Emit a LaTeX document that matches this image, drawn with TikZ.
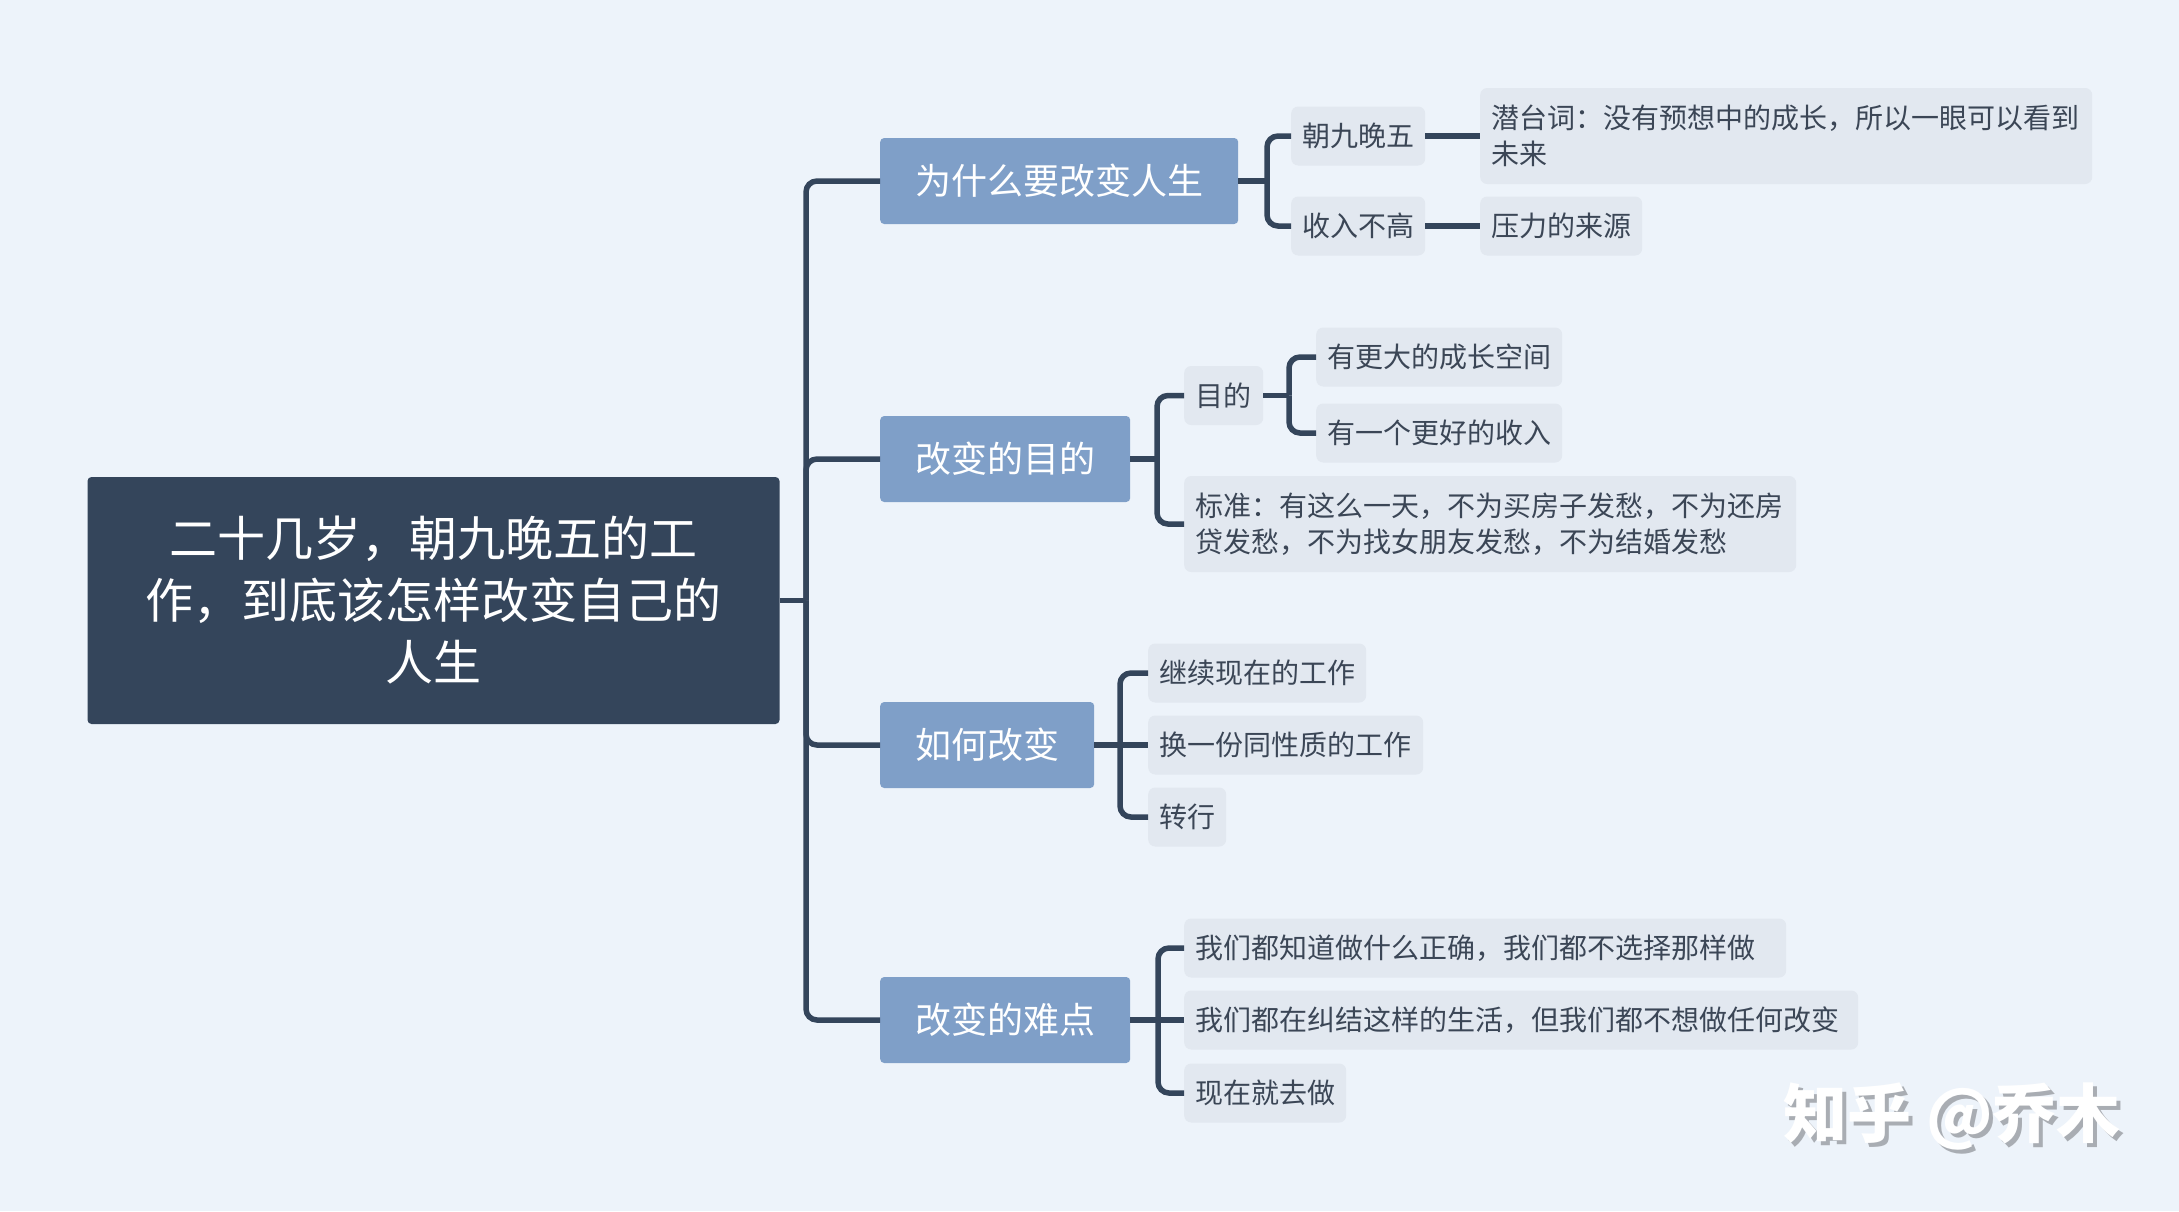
\documentclass[tikz,border=0pt]{standalone}
\usepackage{fontspec}
\setmainfont{Noto Sans CJK SC}
\definecolor{bgc}{HTML}{EDF3FA}
\definecolor{rootc}{HTML}{34455B}
\definecolor{lonec}{HTML}{7F9FC8}
\definecolor{ltwoc}{HTML}{E2E8F0}
\definecolor{txtc}{HTML}{3B4656}
\definecolor{linec}{HTML}{34455B}
\definecolor{wmshadow}{HTML}{A9ADB3}
\tikzset{
  rootbox/.style={fill=rootc, text=white, rounded corners=4pt, minimum width=692pt, minimum height=247pt, align=center, font=\fontsize{48}{62}\selectfont},
  lone/.style={fill=lonec, text=white, rounded corners=4pt, minimum height=86pt, inner xsep=35pt, font=\fontsize{36}{44}\selectfont, anchor=west},
  ltwo/.style={fill=ltwoc, text=txtc, rounded corners=7pt, minimum height=59pt, inner xsep=11pt, inner ysep=6pt, font=\fontsize{28}{36}\selectfont, anchor=west, align=left},
  conn/.style={draw=linec, line width=5.5pt, rounded corners=11pt},
  wmark/.style={font=\fontsize{64}{64}\selectfont\bfseries},
}
\begin{document}
\begin{tikzpicture}[x=1pt,y=-1pt]
\fill[bgc] (0,0) rectangle (2179,1211);
\useasboundingbox (0,0) rectangle (2179,1211);

\node[rootbox] (root) at (433.5,600.5) {二十几岁，朝九晚五的工\\作，到底该怎样改变自己的\\人生};

\node[lone] (n1) at (880,181) {为什么要改变人生};
\node[lone] (n2) at (880,459) {改变的目的};
\node[lone] (n3) at (880,745) {如何改变};
\node[lone] (n4) at (880,1020) {改变的难点};

\node[ltwo, text width=112pt] (a1) at (1291,136) {朝九晚五};
\node[ltwo, text width=112pt] (a2) at (1291,226) {收入不高};
\node[ltwo, text width=590pt, minimum height=96pt] (a1x) at (1480,136) {潜台词：没有预想中的成长，所以一眼可以看到\\未来};
\node[ltwo, text width=140pt] (a2x) at (1480,226) {压力的来源};

\node[ltwo, text width=57pt] (b1) at (1184,395.5) {目的};
\node[ltwo, text width=224pt] (b1a) at (1316,357) {有更大的成长空间};
\node[ltwo, text width=224pt] (b1b) at (1316,433) {有一个更好的收入};
\node[ltwo, text width=590pt, minimum height=96pt] (b2) at (1184,524) {标准：有这么一天，不为买房子发愁，不为还房\\贷发愁，不为找女朋友发愁，不为结婚发愁};

\node[ltwo, text width=196pt] (c1) at (1148,673) {继续现在的工作};
\node[ltwo, text width=253pt] (c2) at (1148,745) {换一份同性质的工作};
\node[ltwo, text width=56pt] (c3) at (1148,817) {转行};

\node[ltwo, text width=580pt] (d1) at (1184,948) {我们都知道做什么正确，我们都不选择那样做};
\node[ltwo, text width=652pt] (d2) at (1184,1020) {我们都在纠结这样的生活，但我们都不想做任何改变};
\node[ltwo, text width=140pt] (d3) at (1184,1093) {现在就去做};

\coordinate (s0) at (806,600.5);
\coordinate (k1) at (1267,181);
\coordinate (k2) at (1157,459);
\coordinate (k2b) at (1289,395.5);
\coordinate (k3) at (1120,745);
\coordinate (k4) at (1158,1020);

\draw[conn] (root.east) -- (s0);
\draw[conn] (s0) |- (n1.west);
\draw[conn] (s0) |- (n2.west);
\draw[conn] (s0) |- (n3.west);
\draw[conn] (s0) |- (n4.west);

\draw[conn] (n1.east) -- (k1);
\draw[conn] (k1) |- (a1.west);
\draw[conn] (k1) |- (a2.west);
\draw[conn] (a1.east) -- (a1x.west);
\draw[conn] (a2.east) -- (a2x.west);

\draw[conn] (n2.east) -- (k2);
\draw[conn] (k2) |- (b1.west);
\draw[conn] (k2) |- (b2.west);
\draw[conn] (b1.east) -- (k2b);
\draw[conn] (k2b) |- (b1a.west);
\draw[conn] (k2b) |- (b1b.west);

\draw[conn] (n3.east) -- (c2.west);
\draw[conn] (k3) |- (c1.west);
\draw[conn] (k3) |- (c3.west);

\draw[conn] (n4.east) -- (d2.west);
\draw[conn] (k4) |- (d1.west);
\draw[conn] (k4) |- (d3.west);

\node[wmark, text=wmshadow] (wms) at (1956,1120) {知乎 @乔木};
\node[wmark, text=white] (wm) at (1952,1116) {知乎 @乔木};
\end{tikzpicture}
\end{document}
